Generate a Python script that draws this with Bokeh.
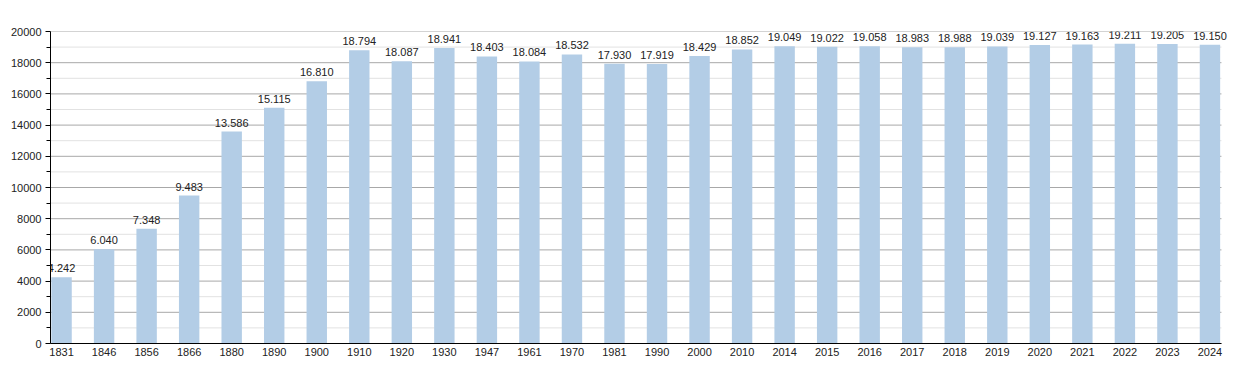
from bokeh.plotting import figure
from bokeh.models import ColumnDataSource, Range1d, FixedTicker, LabelSet
from bokeh.core.properties import value
from bokeh.embed import file_html
from bokeh.resources import INLINE

years = ["1831", "1846", "1856", "1866", "1880", "1890", "1900", "1910", "1920", "1930",
         "1947", "1961", "1970", "1981", "1990", "2000", "2010", "2014", "2015", "2016",
         "2017", "2018", "2019", "2020", "2021", "2022", "2023", "2024"]
population = [4242, 6040, 7348, 9483, 13586, 15115, 16810, 18794, 18087, 18941,
              18403, 18084, 18532, 17930, 17919, 18429, 18852, 19049, 19022, 19058,
              18983, 18988, 19039, 19127, 19163, 19211, 19205, 19150]
y_ticks = list(range(0, 20001, 2000))
y_minor = list(range(1000, 20000, 2000))

n = len(years)
idx = list(range(n))
labels = [f"{v:,}".replace(",", ".") for v in population]
src = ColumnDataSource(dict(x=idx, y=population, lab=labels))

x_start = -0.26
grid_end = n - 1 + 0.27
x_end = n - 1 + 0.53

p = figure(width=1250, height=373, output_backend="svg", toolbar_location=None,
           x_range=Range1d(x_start, x_end), y_range=Range1d(0, 20000),
           min_border_left=50, min_border_right=18, min_border_top=31, min_border_bottom=30)
p.outline_line_color = None
p.background_fill_color = "white"
p.xgrid.grid_line_color = None
p.ygrid.grid_line_color = None

# horizontal grid lines limited to the bar area
p.segment(x0=[x_start] * len(y_minor), x1=[grid_end] * len(y_minor), y0=y_minor, y1=y_minor,
          line_color="#e2e2e2", line_width=1)
p.segment(x0=[x_start] * len(y_ticks), x1=[grid_end] * len(y_ticks), y0=y_ticks, y1=y_ticks,
          line_color="#a8a8a8", line_width=1)

p.vbar(x="x", top="y", width=0.48, source=src, fill_color="#b3cde6", line_color=None)

lbl = LabelSet(x="x", y="y", text="lab", source=src, text_align="center",
               text_baseline="bottom", y_offset=5, text_font_size="11px",
               text_color="#222222", text_font=value("Liberation Sans"))
p.add_layout(lbl)

p.yaxis.ticker = FixedTicker(ticks=y_ticks, minor_ticks=y_minor)
p.yaxis.major_tick_out = 5
p.yaxis.major_tick_in = 0
p.yaxis.minor_tick_out = 4
p.yaxis.minor_tick_in = 0
p.yaxis.major_label_text_font_size = "11px"
p.yaxis.major_label_text_font = "Liberation Sans"
p.yaxis.major_label_text_color = "#222222"
p.yaxis.axis_line_color = "black"
p.yaxis.major_tick_line_color = "black"
p.yaxis.minor_tick_line_color = "black"
p.yaxis.major_label_standoff = 4

p.xaxis.ticker = FixedTicker(ticks=idx)
p.xaxis.bounds = (x_start, grid_end)
p.xaxis.major_label_overrides = {i: y for i, y in enumerate(years)}
p.xaxis.major_tick_out = 0
p.xaxis.major_tick_in = 0
p.xaxis.minor_tick_out = 0
p.xaxis.minor_tick_in = 0
p.xaxis.major_label_text_font_size = "11px"
p.xaxis.major_label_text_font = "Liberation Sans"
p.xaxis.major_label_text_color = "#222222"
p.xaxis.axis_line_color = "black"
p.xaxis.major_label_standoff = 4

open("out.html", "w").write(file_html(p, INLINE))
